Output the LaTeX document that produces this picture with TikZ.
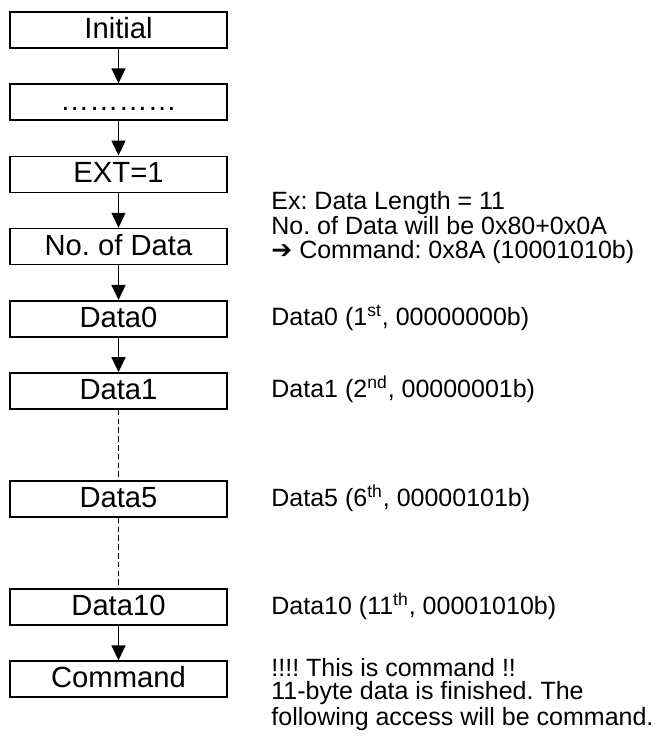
\documentclass[tikz,border=0pt]{standalone}
\usepackage{fontspec}
\setmainfont{Liberation Sans}
\newfontfamily\arrowfont{DejaVu Sans}
\usetikzlibrary{arrows.meta}
\frenchspacing

\begin{document}
\begin{tikzpicture}[x=0.5pt,y=-0.5pt,node distance=36.1pt,
	stage/.style={draw,line width=0.85pt,minimum width=108.5pt,minimum height=18pt,
		inner sep=0pt,text height=10pt,text depth=1.5pt,font=\fontsize{14.6}{16}\selectfont},
	note/.style={inner sep=0pt,align=left,font=\fontsize{12.5}{11.6}\selectfont},
	flow/.style={-{Triangle[length=7.5pt,width=7pt]},line width=0.7pt},
	skip/.style={dash pattern=on 2.8pt off 1.6pt,line width=0.7pt}]
	 \useasboundingbox (0,0) rectangle (661,738);
	 \node[stage] (initial) at (118.5,30) {Initial};
	 \node[stage] (dots) [below of=initial] {…………};
	 \node[stage] (ext) [below of=dots] {EXT=1};
	 \node[stage] (count) [below of=ext] {No. of Data};
	 \node[stage] (data0) [below of=count] {Data0};
	 \node[stage] (data1) [below of=data0] {Data1};
	 \node[stage] (data5) [below of=data1,node distance=54pt] {Data5};
	 \node[stage] (data10) [below of=data5,node distance=54pt] {Data10};
	 \node[stage] (command) [below of=data10] {Command};
	 \draw[flow] (initial) -- (dots);
	 \draw[flow] (dots) -- (ext);
	 \draw[flow] (ext) -- (count);
	 \draw[flow] (count) -- (data0);
	 \draw[flow] (data0) -- (data1);
	 \draw[skip] (data1) -- (data5);
	 \draw[skip] (data5) -- (data10);
	 \draw[flow] (data10) -- (command);
	 % notes on the right
	 \node[note,anchor=north west] (example) at (271,191) {Ex: Data Length = 11\\No. of Data will be 0x80+0x0A\\{\arrowfont ➔} Command: 0x8A (10001010b)};
	 \node[note,anchor=base west] (note0) at (271,325) {Data0 (1\textsuperscript{st}, 00000000b)};
	 \node[note,anchor=base west] (note1) at (271,397.5) {Data1 (2\textsuperscript{nd}, 00000001b)};
	 \node[note,anchor=base west] (note5) at (271,506) {Data5 (6\textsuperscript{th}, 00000101b)};
	 \node[note,anchor=base west] (note10) at (271,614) {Data10 (11\textsuperscript{th}, 00001010b)};
	 \node[note,anchor=north west] (finish) at (271,658) {!!!! This is command !!\\11-byte data is finished. The\\following access will be command.};
\end{tikzpicture}
\end{document}
